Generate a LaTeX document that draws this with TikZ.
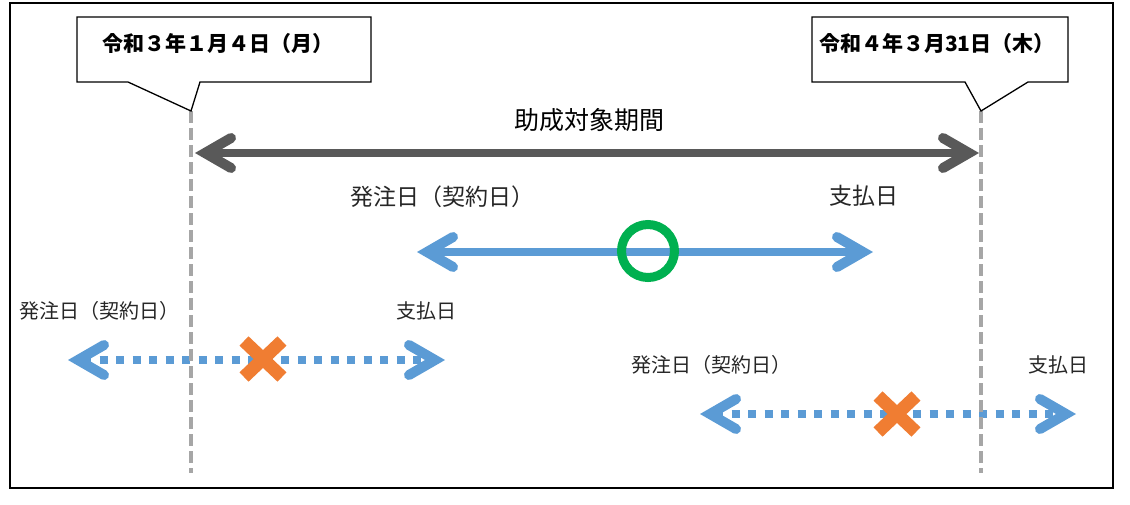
\documentclass[tikz,border=0pt]{standalone}
\usepackage{fontspec}
\setmainfont{Noto Sans CJK JP}
\usetikzlibrary{arrows.meta}
\definecolor{periodgray}{HTML}{595959}
\definecolor{guidegray}{HTML}{A6A6A6}
\definecolor{dateblue}{HTML}{5B9BD5}
\definecolor{okgreen}{HTML}{00B050}
\definecolor{ngorange}{HTML}{F07D32}
\begin{document}
\begin{tikzpicture}[x=1pt, y=-1pt,
        >={Straight Barb[length=26pt, width=30pt, line width=10pt, line cap=round, line join=miter]},
        guide/.style={guidegray, line width=4.5pt, dash pattern=on 12pt off 5pt},
        spanarrow/.style={<->, periodgray, line width=8pt},
        okarrow/.style={<->, dateblue, line width=8pt},
        ngarrow/.style={<->, dateblue, line width=8pt, dash pattern=on 8pt off 8.5pt},
        ngmark/.style={ngorange, line width=13pt},
        callout/.style={draw, line width=1.3pt, fill=white},
        datetext/.style={font=\fontsize{21}{25}\selectfont\bfseries, anchor=west, inner sep=0pt},
        midlabel/.style={font=\fontsize{23}{27}\selectfont, text=black!85, anchor=west, inner sep=0pt},
        smalllabel/.style={font=\fontsize{20}{24}\selectfont, text=black!85, anchor=west, inner sep=0pt}]
        \useasboundingbox (0,0) rectangle (1130,504);
        \draw [line width=2pt] (10,3) rectangle (1113,488);

        % period
        \coordinate (spanL) at (195,153);
        \coordinate (spanR) at (979,153);
        \draw [spanarrow] (spanL) -- (spanR);
        \node [font=\fontsize{25}{29}\selectfont, inner sep=0pt] (span) at (589,120) {助成対象期間};

        % inside the period
        \coordinate (okL) at (417,252);
        \coordinate (okR) at (873,252);
        \draw [okarrow] (okL) -- (okR);
        \node [draw=okgreen, line width=9pt, circle, inner sep=0pt, minimum size=53pt] (ok) at (648,251) {};
        \node [midlabel] (okorder) at (350,197) {発注日（契約日）};
        \node [midlabel] (okpay) at (829,196) {支払日};

        % ordered too early
        \coordinate (earlyL) at (68,360);
        \coordinate (earlyR) at (445,360);
        \draw [ngarrow] (earlyL) -- (earlyR);
        \coordinate (earlyng) at (263,359);
        \draw [ngmark] (earlyng) +(-19,-18) -- +(19,18) (earlyng) +(-19,18) -- +(19,-18);
        \node [smalllabel] (earlyorder) at (19,311) {発注日（契約日）};
        \node [smalllabel] (earlypay) at (396,311) {支払日};

        % paid too late
        \coordinate (lateL) at (700,414);
        \coordinate (lateR) at (1076,414);
        \draw [ngarrow] (lateL) -- (lateR);
        \coordinate (lateng) at (897,414);
        \draw [ngmark] (lateng) +(-19,-18) -- +(19,18) (lateng) +(-19,18) -- +(19,-18);
        \node [smalllabel] (lateorder) at (631,365) {発注日（契約日）};
        \node [smalllabel] (latepay) at (1028,365) {支払日};

        % start and end dates
        \coordinate (starttip) at (191,111);
        \coordinate (startfoot) at (191,473);
        \coordinate (endtip) at (981,111);
        \coordinate (endfoot) at (981,473);
        \draw [guide] (starttip) -- (startfoot);
        \draw [guide] (endtip) -- (endfoot);
        \draw [callout] (77,17) -- (371,17) -- (371,82) -- (200,82) -- (starttip) -- (128,82) -- (77,82) -- cycle;
        \draw [callout] (812,17) -- (1068,17) -- (1068,82) -- (1028,82) -- (endtip) -- (965,82) -- (812,82) -- cycle;
        \node [datetext] (startdate) at (102,44) {令和３年１月４日（月）};
        \node [datetext] (enddate) at (819,44) {令和４年３月31日（木）};
    \end{tikzpicture}
\end{document}
